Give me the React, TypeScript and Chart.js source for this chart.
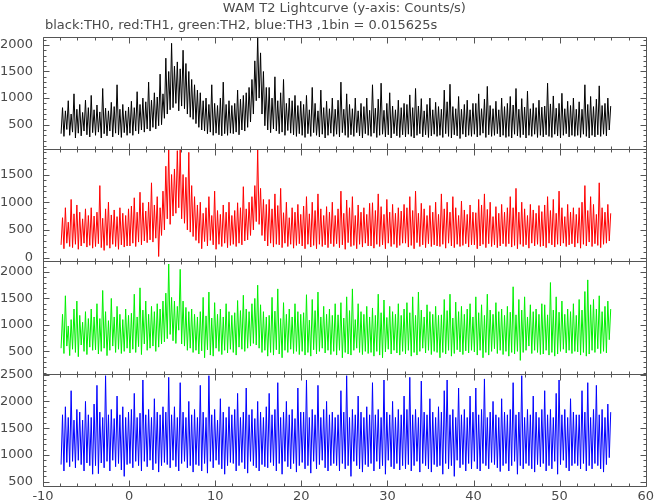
import React, { useEffect, useRef } from 'react';
import { Chart, registerables } from 'chart.js';

Chart.register(...registerables);

const TITLE = 'WAM T2 Lightcurve (y-axis: Counts/s)';
const SUBTITLE = 'black:TH0, red:TH1, green:TH2, blue:TH3 ,1bin = 0.015625s';

// time axis (s): first plotted bin and plotted bin spacing
const T_START = -7.9;
const T_STEP = 1 / 6;
const xTickLabels = [-10, 0, 10, 20, 30, 40, 50, 60];

// Counts/s: (low, high) pairs per bin pair, 24 values per 4 s row
const th0 = [
  330, 820, 280, 760, 410, 950, 300, 700, 360, 1080, 250, 790, 340, 880, 290, 730, 380, 960, 310, 820, 270, 1050, 350, 780,
  300, 870, 360, 740, 250, 1180, 330, 810, 290, 760, 380, 920, 270, 840, 340, 1250, 310, 790, 260, 880, 350, 760, 300, 830,
  340, 940, 300, 820, 380, 1120, 330, 880, 400, 1000, 360, 930, 420, 1300, 380, 960, 450, 1100, 420, 1020, 480, 1450, 500, 1080,
  620, 1750, 700, 1500, 780, 2030, 820, 1600, 900, 1680, 760, 1550, 850, 1900, 800, 1650, 700, 1500, 640, 1350, 600, 1250, 520, 1150,
  450, 1100, 400, 950, 380, 1000, 330, 880, 360, 1250, 300, 900, 340, 860, 310, 1000, 290, 1300, 330, 880, 300, 950, 340, 860,
  330, 900, 360, 1150, 310, 980, 400, 1050, 380, 1100, 450, 1200, 550, 1350, 700, 1700, 950, 2150, 1000, 1850, 700, 1500, 480, 1200,
  400, 1200, 350, 1000, 420, 1400, 380, 950, 330, 1100, 360, 1350, 300, 900, 390, 1000, 340, 950, 310, 1050, 280, 860, 330, 940,
  300, 880, 260, 1050, 330, 780, 280, 1200, 350, 900, 300, 760, 270, 1150, 320, 820, 250, 940, 300, 800, 340, 1000, 280, 790,
  320, 960, 270, 1300, 350, 790, 300, 1080, 260, 880, 310, 800, 280, 1000, 350, 760, 290, 900, 250, 840, 330, 1000, 300, 770,
  280, 1250, 340, 810, 260, 980, 300, 1280, 320, 770, 270, 900, 310, 1100, 250, 850, 330, 780, 290, 960, 260, 820, 310, 900,
  270, 880, 320, 1060, 280, 820, 250, 1180, 300, 850, 330, 990, 270, 760, 310, 880, 260, 1000, 290, 780, 320, 920, 280, 840,
  300, 790, 260, 1150, 330, 930, 280, 1260, 250, 840, 310, 800, 290, 1030, 240, 790, 320, 880, 270, 960, 300, 780, 280, 900,
  320, 900, 270, 1080, 300, 800, 340, 980, 260, 1220, 310, 860, 280, 800, 300, 940, 330, 780, 270, 1000, 300, 840, 260, 900,
  280, 1030, 250, 870, 320, 1180, 290, 790, 260, 990, 310, 830, 250, 1130, 300, 800, 280, 900, 320, 820, 260, 960, 300, 830,
  270, 850, 310, 1280, 280, 890, 260, 1040, 320, 810, 290, 900, 250, 1090, 300, 800, 330, 940, 270, 860, 300, 1000, 280, 790,
  300, 930, 260, 790, 320, 1250, 280, 880, 250, 1030, 300, 840, 270, 980, 310, 1230, 280, 860, 320, 900, 290, 1000, 400, 850,
];
const th1 = [
  230, 720, 160, 900, 260, 640, 200, 1050, 180, 790, 240, 950, 150, 820, 210, 700, 260, 880, 190, 760, 220, 900, 170, 750,
  200, 820, 250, 1300, 180, 710, 130, 880, 220, 1000, 170, 770, 240, 860, 200, 740, 150, 900, 230, 800, 190, 760, 210, 880,
  210, 930, 260, 1080, 200, 820, 280, 1180, 230, 990, 300, 840, 270, 1000, 320, 1350, 280, 950, 350, 1100, 20, 900, 400, 1200,
  500, 1650, 700, 1950, 600, 1500, 750, 1600, 800, 1930, 900, 1950, 700, 1500, 620, 1450, 500, 1900, 460, 1300, 380, 1100, 310, 950,
  260, 1000, 160, 800, 290, 900, 210, 1100, 310, 760, 230, 1200, 150, 850, 240, 780, 200, 950, 260, 820, 180, 1000, 220, 760,
  240, 850, 200, 990, 260, 900, 230, 1280, 300, 880, 320, 1000, 400, 1100, 500, 1300, 650, 1950, 600, 1250, 400, 1050, 300, 960,
  210, 1050, 260, 880, 190, 1150, 240, 940, 230, 1250, 180, 810, 260, 1000, 200, 720, 240, 900, 170, 820, 220, 960, 250, 780,
  210, 930, 160, 1100, 240, 790, 190, 1000, 220, 850, 160, 1150, 240, 880, 200, 760, 230, 920, 180, 820, 250, 1000, 200, 760,
  250, 880, 180, 1200, 230, 800, 150, 1040, 270, 900, 200, 1100, 220, 760, 160, 950, 240, 820, 190, 900, 260, 780, 210, 980,
  210, 990, 170, 850, 240, 1150, 200, 920, 230, 780, 160, 1050, 260, 820, 200, 960, 240, 800, 180, 900, 220, 840, 260, 960,
  260, 900, 190, 1100, 220, 850, 160, 1200, 270, 800, 200, 980, 230, 880, 180, 760, 250, 940, 200, 820, 230, 1000, 210, 780,
  200, 1150, 240, 880, 170, 1000, 260, 820, 210, 1100, 180, 900, 240, 760, 200, 1020, 220, 860, 250, 780, 190, 950, 230, 820,
  230, 810, 160, 1050, 210, 950, 240, 1150, 180, 870, 250, 1000, 200, 740, 230, 920, 180, 800, 210, 960, 250, 820, 200, 900,
  250, 1100, 190, 900, 220, 1250, 160, 820, 240, 1000, 200, 880, 230, 760, 170, 960, 260, 860, 210, 800, 240, 940, 200, 830,
  210, 950, 180, 1100, 260, 850, 230, 1050, 190, 800, 240, 1200, 210, 900, 260, 740, 200, 960, 230, 820, 250, 900, 190, 780,
  260, 900, 170, 1000, 240, 1300, 210, 850, 280, 1100, 200, 960, 250, 780, 220, 1350, 180, 900, 240, 820, 260, 960, 300, 800,
];
const th2 = [
  560, 1200, 460, 1550, 600, 980, 420, 1100, 540, 1300, 480, 1450, 400, 1180, 620, 1050, 500, 1250, 440, 1120, 580, 1300, 520, 1150,
  530, 1400, 450, 1120, 500, 1650, 560, 1250, 420, 1080, 520, 1500, 600, 1150, 480, 1350, 540, 1200, 460, 1100, 500, 1300, 560, 1180,
  470, 1220, 540, 1580, 480, 1150, 590, 1700, 440, 1280, 640, 1450, 520, 1200, 560, 1350, 600, 1250, 500, 1400, 580, 1300, 640, 1450,
  680, 1600, 740, 2150, 820, 1520, 700, 1450, 650, 1350, 900, 2050, 640, 1450, 600, 1330, 520, 1250, 560, 1300, 480, 1200, 520, 1150,
  450, 1250, 510, 1520, 380, 1170, 530, 1620, 430, 1130, 410, 1420, 560, 1200, 500, 1300, 440, 1150, 520, 1400, 470, 1250, 540, 1180,
  480, 1230, 430, 1460, 580, 1270, 540, 1560, 500, 1300, 560, 1250, 600, 1400, 650, 1500, 620, 1750, 560, 1380, 480, 1250, 520, 1150,
  410, 1180, 480, 1520, 430, 1260, 530, 1680, 450, 1120, 380, 1420, 520, 1200, 480, 1300, 540, 1150, 460, 1400, 500, 1250, 440, 1200,
  500, 1230, 430, 1570, 480, 1090, 410, 1480, 530, 1270, 450, 1620, 500, 1150, 560, 1350, 470, 1200, 520, 1300, 440, 1180, 500, 1400,
  430, 1190, 520, 1420, 380, 1130, 480, 1530, 450, 1270, 430, 1680, 520, 1100, 560, 1400, 480, 1250, 440, 1200, 500, 1350, 460, 1150,
  480, 1320, 410, 1180, 500, 1580, 430, 1230, 380, 1470, 490, 1140, 540, 1350, 450, 1250, 520, 1200, 470, 1400, 430, 1180, 500, 1300,
  450, 1420, 520, 1230, 410, 1530, 480, 1180, 430, 1620, 500, 1280, 560, 1150, 470, 1380, 520, 1250, 440, 1200, 500, 1350, 480, 1180,
  380, 1190, 480, 1480, 450, 1270, 520, 1580, 410, 1130, 460, 1430, 530, 1250, 490, 1350, 440, 1200, 510, 1300, 470, 1400, 520, 1150,
  490, 1530, 430, 1230, 520, 1380, 380, 1180, 480, 1580, 430, 1280, 500, 1200, 550, 1420, 460, 1250, 520, 1300, 440, 1180, 500, 1350,
  410, 1240, 480, 1720, 450, 1190, 500, 1480, 330, 1280, 480, 1530, 520, 1150, 600, 1380, 460, 1250, 520, 1300, 480, 1200, 440, 1400,
  450, 1380, 520, 1190, 430, 1800, 480, 1280, 410, 1530, 450, 1240, 500, 1450, 540, 1200, 470, 1300, 520, 1250, 460, 1400, 500, 1180,
  490, 1480, 430, 1280, 480, 1630, 410, 1850, 450, 1380, 520, 1480, 480, 1300, 550, 1550, 460, 1250, 500, 1350, 470, 1450, 720, 1300,
];
const th3 = [
  820, 1750, 700, 1900, 860, 1700, 780, 2200, 880, 1650, 760, 1850, 900, 1800, 820, 1650, 700, 2000, 850, 1750, 800, 1700, 640, 1950,
  800, 2300, 650, 1800, 850, 1700, 760, 2480, 880, 1750, 700, 1850, 900, 1680, 780, 2100, 840, 1750, 720, 1900, 600, 1700, 820, 1800,
  840, 1850, 760, 2150, 880, 1700, 800, 1780, 700, 2400, 880, 1750, 780, 1850, 900, 1700, 720, 2050, 840, 1800, 680, 1750, 800, 1900,
  860, 1800, 820, 2450, 760, 1750, 900, 1900, 780, 1700, 700, 2350, 840, 1800, 880, 1700, 760, 2000, 800, 1750, 680, 1850, 820, 1700,
  800, 2300, 700, 1800, 840, 1700, 660, 2480, 880, 1750, 760, 1850, 900, 1650, 820, 2050, 740, 1800, 640, 1700, 800, 1900, 860, 1750,
  840, 1850, 700, 2150, 800, 1700, 860, 1800, 740, 2250, 660, 1750, 880, 1850, 800, 1680, 760, 2000, 700, 1800, 820, 1700, 780, 1900,
  760, 2150, 860, 1750, 800, 1850, 700, 2350, 840, 1700, 640, 1800, 880, 2000, 780, 1750, 740, 1850, 840, 1680, 680, 2250, 800, 1800,
  860, 1800, 740, 2400, 800, 1700, 660, 1850, 880, 1750, 740, 2300, 820, 1700, 900, 1850, 760, 2000, 700, 1750, 800, 1800, 840, 1700,
  800, 1750, 700, 2200, 840, 1800, 740, 2480, 800, 1700, 600, 1850, 880, 1750, 800, 2100, 740, 1800, 680, 1700, 820, 1900, 780, 1750,
  840, 2350, 700, 1750, 880, 1850, 740, 1700, 800, 2400, 640, 1800, 900, 1750, 780, 2000, 740, 1700, 840, 1850, 720, 1750, 800, 2100,
  740, 1850, 820, 2450, 700, 1750, 800, 1850, 880, 1700, 680, 2380, 840, 1800, 800, 1750, 740, 2050, 680, 1800, 820, 1700, 780, 1900,
  800, 1800, 640, 2200, 840, 2400, 740, 1750, 800, 1850, 600, 1700, 900, 2250, 760, 1750, 820, 1850, 700, 1700, 840, 2100, 740, 1800,
  880, 2250, 740, 1750, 700, 1850, 840, 2420, 800, 1700, 740, 1800, 860, 2000, 820, 1750, 760, 1700, 690, 2050, 800, 1800, 840, 1750,
  700, 1850, 800, 2350, 880, 1750, 640, 1800, 800, 2480, 740, 1700, 840, 1850, 800, 1750, 740, 2100, 680, 1800, 820, 1700, 780, 1850,
  840, 2200, 700, 1750, 800, 1850, 740, 1700, 880, 2150, 640, 2400, 820, 1750, 900, 1850, 760, 1700, 700, 2050, 800, 1800, 840, 1750,
  800, 1750, 740, 2200, 840, 1800, 700, 2350, 800, 1700, 740, 1850, 840, 2300, 800, 1750, 740, 1850, 680, 1700, 820, 1950, 950, 1800,
];

// y tick labels and y ranges per panel
const yTicksTH0 = [500, 1000, 1500, 2000];
const yTicksTH1 = [0, 500, 1000, 1500];
const yTicksTH2 = [500, 1000, 1500, 2000];
const yTicksTH3 = [500, 1000, 1500, 2000, 2500];
const yRangeTH0 = [45, 2158];
const yRangeTH1 = [-66, 1963];
const yRangeTH2 = [80, 2202];
const yRangeTH3 = [420, 2519];

const FONT = { family: 'DejaVu Sans', size: 13 };
const TEXT_COLOR = '#4a4a4a';
const FRAME_COLOR = '#555555';

// top panel first
const panels = [
  { id: 'yTH0', label: 'TH0', data: th0, ticks: yTicksTH0, range: yRangeTH0, color: '#000000' },
  { id: 'yTH1', label: 'TH1', data: th1, ticks: yTicksTH1, range: yRangeTH1, color: '#ff0000' },
  { id: 'yTH2', label: 'TH2', data: th2, ticks: yTicksTH2, range: yRangeTH2, color: '#00f000' },
  { id: 'yTH3', label: 'TH3', data: th3, ticks: yTicksTH3, range: yRangeTH3, color: '#0000ff' },
];

const framePlugin = {
  id: 'frames',
  afterDraw(chart: any) {
    const ctx = chart.ctx;
    const area = chart.chartArea;
    const xs = chart.scales.x;
    ctx.save();
    ctx.strokeStyle = FRAME_COLOR;
    ctx.lineWidth = 1;
    panels.forEach((p) => {
      const ys = chart.scales[p.id];
      const top = Math.round(ys.top) + 0.5;
      const bottom = Math.round(ys.bottom) + 0.5;
      const left = Math.round(area.left) + 0.5;
      const right = Math.round(area.right) + 0.5;
      ctx.beginPath();
      ctx.rect(left, top, right - left, bottom - top);
      for (let v = -10; v <= 60; v += 2) {
        const x = Math.round(xs.getPixelForValue(v)) + 0.5;
        const len = v % 10 === 0 ? 6 : 3;
        ctx.moveTo(x, top);
        ctx.lineTo(x, top + len);
        ctx.moveTo(x, bottom);
        ctx.lineTo(x, bottom - len);
      }
      const start = Math.ceil(ys.min / 100) * 100;
      for (let v = start; v <= ys.max; v += 100) {
        const y = Math.round(ys.getPixelForValue(v)) + 0.5;
        const len = v % 500 === 0 ? 6 : 3;
        ctx.moveTo(left, y);
        ctx.lineTo(left + len, y);
        ctx.moveTo(right, y);
        ctx.lineTo(right - len, y);
      }
      ctx.stroke();
    });
    ctx.fillStyle = TEXT_COLOR;
    ctx.font = `${FONT.size}px ${FONT.family}`;
    ctx.textBaseline = 'middle';
    ctx.textAlign = 'center';
    ctx.fillText(TITLE, (area.left + area.right) / 2, 9);
    ctx.textAlign = 'left';
    ctx.fillText(SUBTITLE, 45, 26);
    ctx.restore();
  },
};

export default function App() {
  const ref = useRef<HTMLCanvasElement | null>(null);
  useEffect(() => {
    if (!ref.current) return;
    const times = th0.map((_, i) => T_START + i * T_STEP);
    const scales: any = {
      x: {
        type: 'linear',
        position: 'bottom',
        min: -10,
        max: 60,
        grid: { display: false, drawTicks: false },
        border: { display: false },
        ticks: { font: FONT, color: TEXT_COLOR, padding: 3, maxRotation: 0, autoSkip: false, callback: (v: any) => String(v) },
        afterBuildTicks: (s: any) => { s.ticks = xTickLabels.map((v) => ({ value: v })); },
        afterFit: (s: any) => { s.height = 18; },
      },
    };
    // stacked axes are laid out bottom-first, so declare the bottom panel first
    [...panels].reverse().forEach((p) => {
      scales[p.id] = {
        type: 'linear',
        position: 'left',
        stack: 'panels',
        stackWeight: 1,
        min: p.range[0],
        max: p.range[1],
        grid: { display: false, drawTicks: false },
        border: { display: false },
        ticks: { font: FONT, color: TEXT_COLOR, padding: 10, autoSkip: false, callback: (v: any) => String(v) },
        afterBuildTicks: (s: any) => { s.ticks = p.ticks.map((v) => ({ value: v })); },
        afterFit: (s: any) => { s.width = 43; },
      };
    });
    const chart = new Chart(ref.current, {
      type: 'line',
      data: {
        datasets: panels.map((p) => ({
          label: p.label,
          data: p.data.map((v, i) => ({ x: times[i], y: v })),
          yAxisID: p.id,
          xAxisID: 'x',
          borderColor: p.color,
          borderWidth: 1,
          pointRadius: 0,
          tension: 0,
          fill: false,
        })),
      },
      options: {
        responsive: false,
        animation: false,
        devicePixelRatio: 1,
        layout: { padding: { top: 36.5, left: 0, right: 8, bottom: 0 } },
        plugins: { legend: { display: false }, tooltip: { enabled: false }, title: { display: false } },
        scales,
      },
      plugins: [framePlugin],
    });
    return () => chart.destroy();
  }, []);
  return (
    <div style={{ position: 'absolute', left: 0, top: 0, width: 657, height: 504, background: '#fff' }}>
      <canvas ref={ref} width={657} height={504} />
    </div>
  );
}
